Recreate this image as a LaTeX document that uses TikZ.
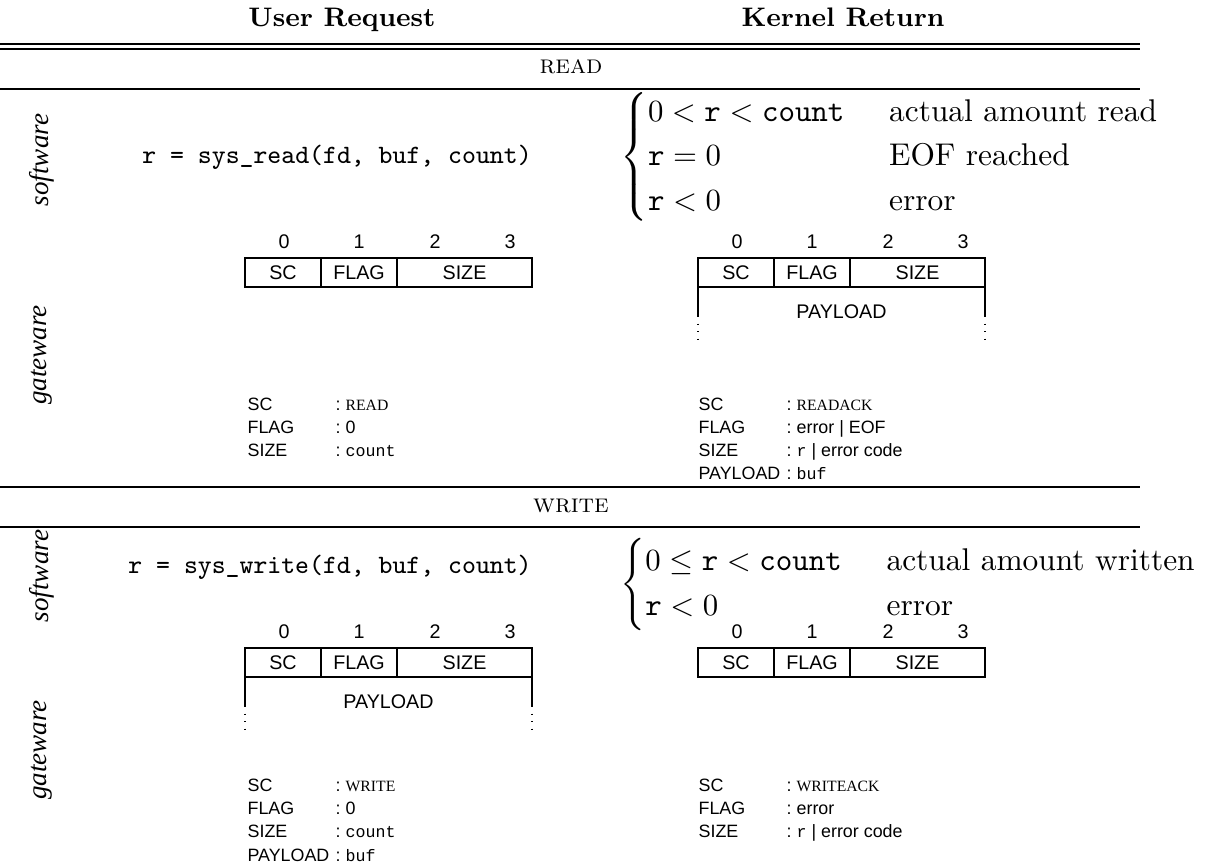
\documentclass[tikz,border=0pt]{standalone}
\usepackage{amsmath}
\usepackage{fontspec}
\newfontfamily\pktsans{Liberation Sans}
\newfontfamily\pktserif{Liberation Serif}[ItalicFont={Liberation Serif Italic}]
\newfontfamily\pktmono{Liberation Mono}

% small serif capitals and monospaced values used in the field lists
\newcommand\scval[1]{{\pktserif\fontsize{5.1}{6}\selectfont #1}}
\newcommand\ttval[1]{{\pktmono\fontsize{5.4}{6}\selectfont #1}}
% return-value cases: condition column, then description column
\newenvironment{retsplit}
  {\left\lbrace\def\arraystretch{1.2}\begin{array}{@{}l@{\hspace{14.5pt}}l@{}}}
  {\end{array}\right.}

\tikzset{
  hdr/.style={font=\fontsize{8.7}{10}\selectfont\bfseries, anchor=base, inner sep=0pt},
  secttitle/.style={font=\fontsize{8.5}{10}\selectfont\scshape, anchor=base, inner sep=0pt},
  sidelabel/.style={rotate=90, font=\fontsize{8.8}{10}\selectfont\pktserif\itshape, inner sep=0pt},
  callcode/.style={font=\fontsize{8.6}{10}\selectfont\ttfamily, inner sep=0pt},
  retcases/.style={font=\fontsize{10.2}{12}\selectfont, anchor=west, inner sep=0pt},
  tablerule/.style={line width=0.4pt},
  pktline/.style={line width=0.45pt},
  pkttext/.style={font=\fontsize{6.4}{7}\selectfont\pktsans, inner sep=0pt},
  fkey/.style={font=\fontsize{5.8}{7}\selectfont\pktsans, anchor=base west, inner sep=0pt},
  % four-byte header: SC | FLAG | SIZE
  pics/pkthead/.style={code={
    \draw[pktline] (0,0) rectangle (287,29);
    \draw[pktline] (76,0) -- (76,29) (152,0) -- (152,29);
    \node[pkttext] (-b0) at (39,-16) {0};
    \node[pkttext] (-b1) at (114,-16) {1};
    \node[pkttext] (-b2) at (190,-16) {2};
    \node[pkttext] (-b3) at (265,-16) {3};
    \node[pkttext] (-sc) at (38,14.5) {SC};
    \node[pkttext] (-flag) at (114,14.5) {FLAG};
    \node[pkttext] (-size) at (219.5,14.5) {SIZE};
  }},
  % open-ended payload below the header
  pics/pktbody/.style={code={
    \draw[pktline] (0,29) -- (0,58) (287,29) -- (287,58);
    \draw[pktline, dotted] (0,58) -- (0,82) (287,58) -- (287,82);
    \node[pkttext] (-pl) at (143.5,54) {PAYLOAD};
  }}
}

\begin{document}
\begin{tikzpicture}[x=0.3247pt, y=-0.3247pt]
\useasboundingbox (0,0) rectangle (1212,865);

% column headings and table rules
\node[hdr] (hreq) at (342,27) {User Request};
\node[hdr] (hret) at (843,27) {Kernel Return};
\draw[tablerule] (0,44) -- (1140,44);
\draw[tablerule] (0,49) -- (1140,49);
\node[secttitle] (tread) at (571,74) {read};
\draw[tablerule] (0,89) -- (1140,89);
\draw[tablerule] (0,487) -- (1140,487);
\node[secttitle] (twrite) at (571,512) {write};
\draw[tablerule] (0,527) -- (1140,527);

% ---------------- read ----------------
\node[sidelabel] (rsw) at (42,160) {software};
\node[sidelabel] (rgw) at (42,355) {gateware};
\node[callcode] (rcall) at (337,157) {r = sys\_read(fd, buf, count)};
\node[retcases] (rret) at (620,157)
  {$\begin{retsplit}
     0<\mathtt{r}<\mathtt{count} & \text{actual amount read}\\
     \mathtt{r}=0 & \text{EOF reached}\\
     \mathtt{r}<0 & \text{error}
   \end{retsplit}$};

\pic (rq) at (245,258) {pkthead};
\pic (rk) at (698,258) {pkthead};
\pic (rkp) at (698,258) {pktbody};

\node[fkey] (rqk1) at (247,410) {SC};
\node[fkey] (rqc1) at (335,410) {:};
\node[fkey] (rqv1) at (345,410) {\scval{READ}};
\node[fkey] (rqk2) at (247,433) {FLAG};
\node[fkey] (rqc2) at (335,433) {:};
\node[fkey] (rqv2) at (345,433) {0};
\node[fkey] (rqk3) at (247,456) {SIZE};
\node[fkey] (rqc3) at (335,456) {:};
\node[fkey] (rqv3) at (345,456) {\ttval{count}};

\node[fkey] (rkk1) at (698,410) {SC};
\node[fkey] (rkc1) at (786,410) {:};
\node[fkey] (rkv1) at (796,410) {\scval{READACK}};
\node[fkey] (rkk2) at (698,433) {FLAG};
\node[fkey] (rkc2) at (786,433) {:};
\node[fkey] (rkv2) at (796,433) {error | EOF};
\node[fkey] (rkk3) at (698,456) {SIZE};
\node[fkey] (rkc3) at (786,456) {:};
\node[fkey] (rkv3) at (796,456) {\ttval{r} | error code};
\node[fkey] (rkk4) at (698,479) {PAYLOAD};
\node[fkey] (rkc4) at (786,479) {:};
\node[fkey] (rkv4) at (796,479) {\ttval{buf}};

% ---------------- write ----------------
\node[sidelabel] (wsw) at (42,576) {software};
\node[sidelabel] (wgw) at (42,750) {gateware};
\node[callcode] (wcall) at (330,567) {r = sys\_write(fd, buf, count)};
\node[retcases] (wret) at (620,584)
  {$\begin{retsplit}
     0\le\mathtt{r}<\mathtt{count} & \text{actual amount written}\\
     \mathtt{r}<0 & \text{error}
   \end{retsplit}$};

\pic (wq) at (245,648) {pkthead};
\pic (wqp) at (245,648) {pktbody};
\pic (wk) at (698,648) {pkthead};

\node[fkey] (wqk1) at (247,791) {SC};
\node[fkey] (wqc1) at (335,791) {:};
\node[fkey] (wqv1) at (345,791) {\scval{WRITE}};
\node[fkey] (wqk2) at (247,814) {FLAG};
\node[fkey] (wqc2) at (335,814) {:};
\node[fkey] (wqv2) at (345,814) {0};
\node[fkey] (wqk3) at (247,837) {SIZE};
\node[fkey] (wqc3) at (335,837) {:};
\node[fkey] (wqv3) at (345,837) {\ttval{count}};
\node[fkey] (wqk4) at (247,861) {PAYLOAD};
\node[fkey] (wqc4) at (335,861) {:};
\node[fkey] (wqv4) at (345,861) {\ttval{buf}};

\node[fkey] (wkk1) at (698,791) {SC};
\node[fkey] (wkc1) at (786,791) {:};
\node[fkey] (wkv1) at (796,791) {\scval{WRITEACK}};
\node[fkey] (wkk2) at (698,814) {FLAG};
\node[fkey] (wkc2) at (786,814) {:};
\node[fkey] (wkv2) at (796,814) {error};
\node[fkey] (wkk3) at (698,837) {SIZE};
\node[fkey] (wkc3) at (786,837) {:};
\node[fkey] (wkv3) at (796,837) {\ttval{r} | error code};
\end{tikzpicture}
\end{document}
